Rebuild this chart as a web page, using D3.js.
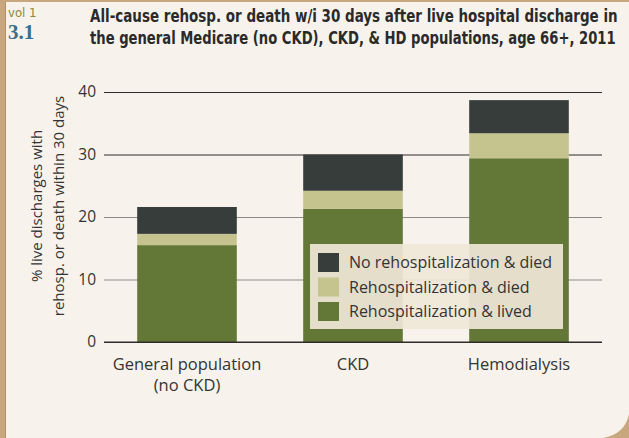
<!DOCTYPE html>
<html>
<head>
<meta charset="utf-8">
<script src="https://cdn.jsdelivr.net/npm/d3@7"></script>
<style>
  html, body { margin: 0; padding: 0; background: #c9a77e; }
  svg { display: block; }
</style>
</head>
<body>
<script>
const width = 629
const height = 438

// data
const categories = ['General population\n(no CKD)', 'CKD', 'Hemodialysis']
const series = ['Rehospitalization & lived', 'Rehospitalization & died', 'No rehospitalization & died']
const rehospLived = [15.5, 21.3, 29.4]
const rehospDied = [1.8, 2.9, 4.0]
const noRehospDied = [4.3, 5.8, 5.3]
const yTicks = [0, 10, 20, 30, 40]

const colors = {
    paper: '#f7f3ec',
    edge: '#c9a77e',
    lived: '#637737',
    rehospDied: '#c5c48f',
    noRehospDied: '#363d3b',
    text: '#333',
    gridDark: '#2e2c2a',
    gridLight: '#8d8a86',
    legendBg: '#efe6d6'
}
const seriesColors = [colors.lived, colors.rehospDied, colors.noRehospDied]

const rows = categories.map((c, i) => ({
    cat: c,
    [series[0]]: rehospLived[i],
    [series[1]]: rehospDied[i],
    [series[2]]: noRehospDied[i]
}))

const svg = d3.select('body')
    .append('svg')
    .attr('width', width)
    .attr('height', height)

// paper panel with tan edge
svg.append('rect')
    .attr('width', width).attr('height', height)
    .attr('fill', colors.edge)
svg.append('path')
    .attr('d', `M5,2 H${width} V${height - 24} Q${width - 4},${height - 4} ${width - 26},${height} H5 Z`)
    .attr('fill', colors.paper)
svg.append('line')
    .attr('x1', 5.5).attr('x2', 5.5).attr('y1', 2).attr('y2', height)
    .attr('stroke', '#b08d66').attr('stroke-width', 1)

// header
svg.append('text')
    .attr('x', 8).attr('y', 17)
    .attr('font-family', 'Liberation Sans Narrow, DejaVu Sans Condensed, sans-serif')
    .attr('font-size', 13).attr('fill', '#8c8a3c')
    .text('vol 1')
svg.append('text')
    .attr('x', 8).attr('y', 39)
    .attr('font-family', 'Liberation Serif, serif')
    .attr('font-size', 21).attr('font-weight', 'bold').attr('fill', '#3c6d8c')
    .text('3.1')

// title: condensed look made by squeezing each line horizontally to its width
const titleLines = [
    'All-cause rehosp. or death w/i 30 days after live hospital discharge in',
    'the general Medicare (no CKD), CKD, & HD populations, age 66+, 2011'
]
const titleWidths = [528, 526]
svg.append('g').selectAll('g')
    .data(titleLines)
    .enter().append('g')
    .each(function (d, i) {
        const g = d3.select(this)
        const t = g.append('text')
            .attr('font-family', 'Liberation Sans Narrow, DejaVu Sans Condensed, sans-serif')
            .attr('font-size', 18).attr('font-weight', 'bold').attr('fill', '#2a2a2a')
            .text(d)
        const k = titleWidths[i] / t.node().getComputedTextLength()
        g.attr('transform', `translate(90,${22 + i * 22}) scale(${k},1)`)
    })

// chart
const margin = {left: 104, right: 27, top: 92, bottom: 96}
const x = d3.scaleBand()
    .domain(categories)
    .range([margin.left, width - margin.right])
    .paddingInner(0.4)
    .paddingOuter(0.2)
const y = d3.scaleLinear()
    .domain([0, 40])
    .range([height - margin.bottom, margin.top])

const font = 'Open Sans, Noto Sans, sans-serif'

const yAxis = svg.append('g')
    .attr('transform', `translate(${margin.left},0)`)
    .call(d3.axisLeft(y).tickValues(yTicks).tickSize(0).tickPadding(8))
yAxis.select('.domain').remove()
yAxis.selectAll('text')
    .attr('font-family', font).attr('font-size', 15.5).attr('fill', colors.text)
yAxis.selectAll('.tick').append('line')
    .attr('x1', 0).attr('x2', width - margin.right - margin.left)
    .attr('stroke', d => (d === 10 || d === 20) ? colors.gridLight : colors.gridDark)
    .attr('stroke-width', 1.2)

// stacked bars
const stacked = d3.stack().keys(series)(rows)
svg.append('g')
    .selectAll('g')
    .data(stacked)
    .enter().append('g')
    .attr('fill', (d, i) => seriesColors[i])
    .selectAll('rect')
    .data(d => d)
    .enter().append('rect')
    .attr('x', d => x(d.data.cat))
    .attr('width', x.bandwidth())
    .attr('y', d => y(d[1]))
    .attr('height', d => y(d[0]) - y(d[1]))

// baseline on top
svg.append('line')
    .attr('x1', margin.left).attr('x2', width - margin.right)
    .attr('y1', y(0)).attr('y2', y(0))
    .attr('stroke', colors.gridDark).attr('stroke-width', 1.2)

// x labels
const xLabels = svg.append('g')
    .selectAll('text')
    .data(categories)
    .enter().append('text')
    .attr('x', d => x(d) + x.bandwidth() / 2)
    .attr('y', y(0) + 28)
    .attr('text-anchor', 'middle')
    .attr('font-family', font).attr('font-size', 16.5).attr('fill', colors.text)
xLabels.selectAll('tspan')
    .data(d => d.split('\n'))
    .enter().append('tspan')
    .attr('x', function () { return d3.select(this.parentNode).attr('x') })
    .attr('dy', (d, i) => i === 0 ? 0 : 21)
    .text(d => d)

// y title
const yTitle = svg.append('text')
    .attr('transform', `translate(42,${(y(0) + y(40)) / 2 - 11}) rotate(-90)`)
    .attr('text-anchor', 'middle')
    .attr('font-family', font).attr('font-size', 15).attr('fill', colors.text)
yTitle.append('tspan').attr('x', 0).attr('dy', 0).text('% live discharges with')
yTitle.append('tspan').attr('x', 0).attr('dy', 22).text('rehosp. or death within 30 days')

// legend
const legend = svg.append('g').attr('transform', 'translate(310,244)')
legend.append('rect')
    .attr('width', 253).attr('height', 85)
    .attr('fill', colors.legendBg).attr('opacity', 0.93)
const legendItems = series.slice().reverse()
const legendColors = seriesColors.slice().reverse()
const item = legend.selectAll('.item')
    .data(legendItems)
    .enter().append('g')
    .attr('class', 'item')
    .attr('transform', (d, i) => `translate(8,${9 + i * 24.5})`)
item.append('rect')
    .attr('width', 21).attr('height', 19)
    .attr('fill', (d, i) => legendColors[i])
item.append('text')
    .attr('x', 31).attr('y', 15)
    .attr('font-family', font).attr('font-size', 16).attr('fill', colors.text)
    .text(d => d)
</script>
</body>
</html>
